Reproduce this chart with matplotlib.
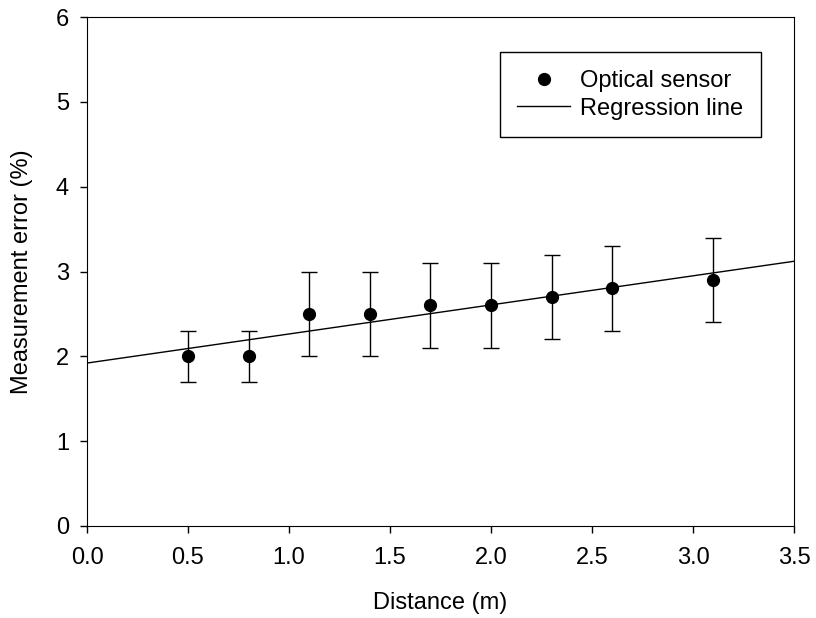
import numpy as np
import matplotlib
matplotlib.use('Agg')
from matplotlib import pyplot as plt

plt.rcParams['font.family'] = ['Liberation Sans', 'DejaVu Sans']

distance = [0.5, 0.8, 1.1, 1.4, 1.7, 2.0, 2.3, 2.6, 3.1]
error_pct = [2.0, 2.0, 2.5, 2.5, 2.6, 2.6, 2.7, 2.8, 2.9]
err_bar = [0.3, 0.3, 0.5, 0.5, 0.5, 0.5, 0.5, 0.5, 0.5]

# least squares fit, drawn over the whole x range
slope, intercept = np.polyfit(distance, error_pct, 1)
line_x = np.array([0.0, 3.5])

fig = plt.figure(figsize=(8.16, 6.18), dpi=100)
ax = fig.add_axes([87/816, 1-526/618, (794-87)/816, (526-17)/618])

ax.errorbar(distance, error_pct, yerr=err_bar, fmt='none', ecolor='black',
            capsize=5.5, elinewidth=1, capthick=1, zorder=2)
ax.plot(distance, error_pct, 'o', color='black', markersize=8.5,
        label='Optical sensor', zorder=3)
ax.plot(line_x, slope*line_x + intercept, color='black', lw=1,
        label='Regression line')

ax.set_xlim(0, 3.5)
ax.set_ylim(0, 6)
ax.set_xticks(np.arange(0, 3.51, 0.5))
ax.set_xticklabels(['{:.1f}'.format(v) for v in np.arange(0, 3.51, 0.5)])
ax.set_yticks(range(7))
ax.tick_params(direction='out', length=5, width=1, labelsize=17, top=False, right=False)
ax.tick_params(axis='x', pad=10)
ax.tick_params(axis='y', pad=8)
ax.set_xlabel('Distance (m)', fontsize=17, labelpad=17)
ax.set_ylabel('Measurement error (%)', fontsize=17, labelpad=16)

leg = ax.legend(loc='upper right', bbox_to_anchor=(0.953, 0.931), borderaxespad=0,
                fontsize=17, fancybox=False, edgecolor='black', framealpha=1,
                handlelength=2.25, handletextpad=0.4, borderpad=0.75,
                labelspacing=0.25, numpoints=1)
leg.get_frame().set_linewidth(1)

plt.savefig('out.png', dpi=100)
